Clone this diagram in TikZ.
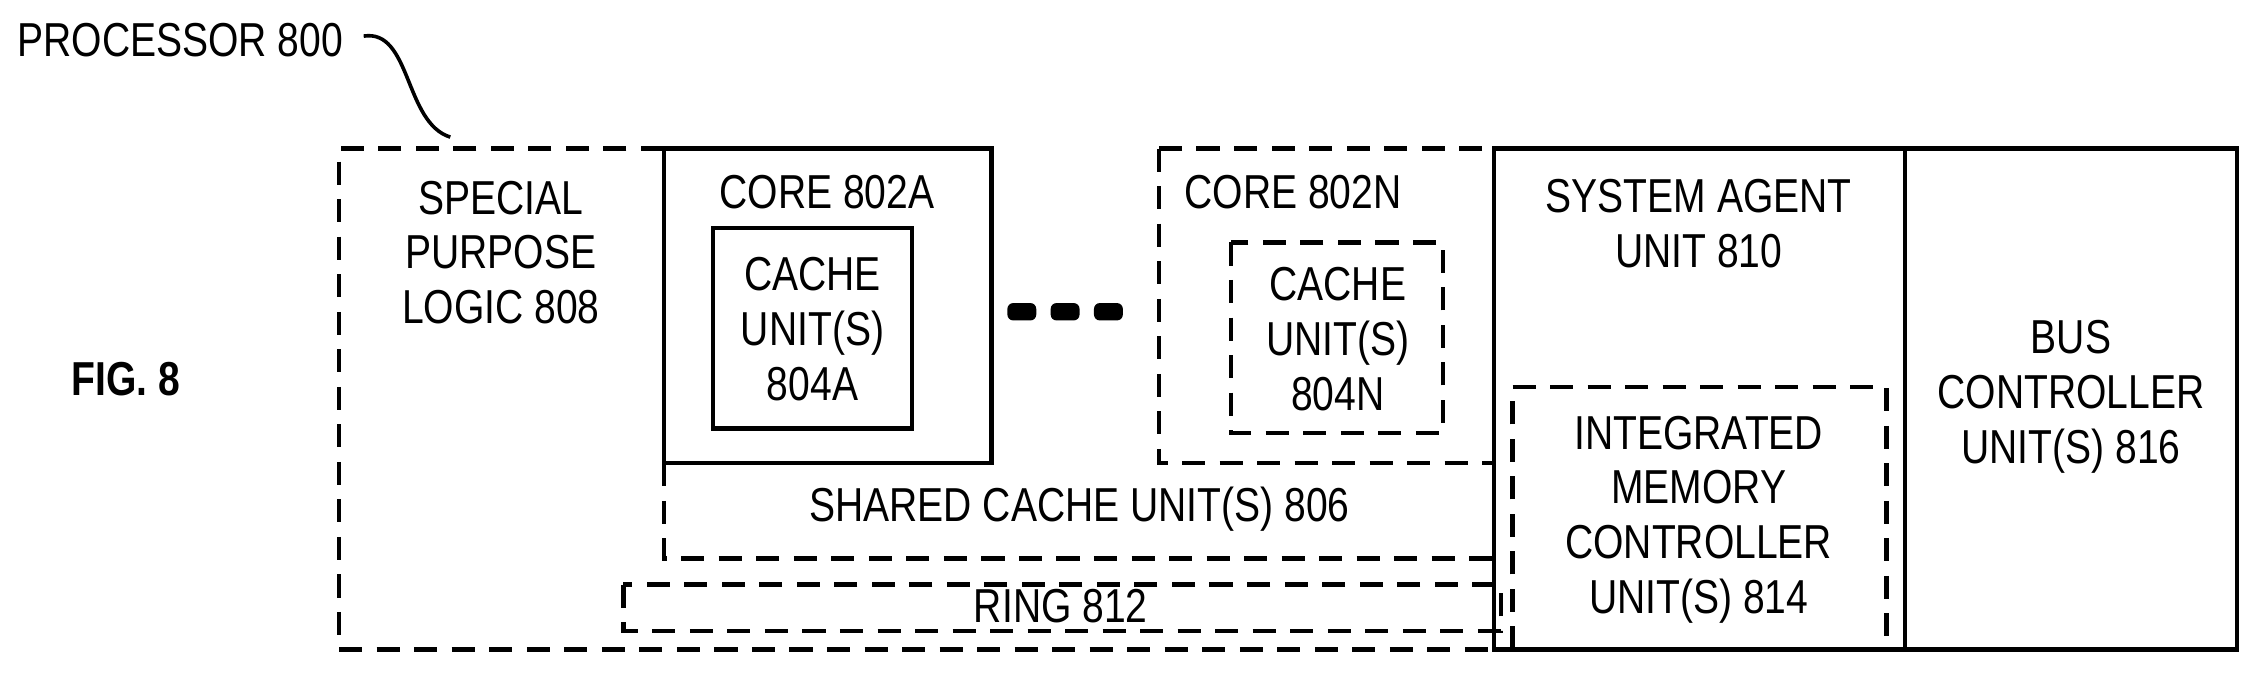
\documentclass[tikz,border=0pt]{standalone}
\usepackage{fontspec}
\setmainfont[FakeStretch=0.82]{Liberation Sans}
\begin{document}
\begin{tikzpicture}[x=1pt,y=-1pt,
  solid box/.style={draw,line width=3pt},
  dash box/.style={draw,line width=3pt,dash pattern=on 16pt off 10pt},
  lbl/.style={font=\fontsize{33}{38}\selectfont,align=center,inner sep=0pt},
  every node/.style={inner sep=0pt}]
\useasboundingbox (0,0) rectangle (1568,467);
% processor outer dashed
\draw[dash box] (460,103) -- (235,103) -- (235,450) -- (1035,450);
\draw[dash box] (803,103) rectangle (1035,321);
\node[lbl] (spl) at (347,175) {SPECIAL\\PURPOSE\\LOGIC 808};
% core A
\draw[solid box] (460,103) rectangle (687,321);
\node[lbl] (ca) at (573,133) {CORE 802A};
\draw[solid box] (494,158) rectangle (632,297);
\node[lbl] (cua) at (563,228) {CACHE\\UNIT(S)\\804A};
% dots
\foreach \x in {708,738,768} \fill[rounded corners=4pt] (\x-10,210) rectangle (\x+10,222);
% core N
\node[lbl] (cn) at (896,133) {CORE 802N};
\draw[dash box] (853,168) rectangle (1000,300);
\node[lbl] (cun) at (927,235) {CACHE\\UNIT(S)\\804N};
% shared cache
\draw[dash box] (460,321) -- (460,387) -- (1035,387) -- (1035,321);
\node[lbl] (sc) at (748,353) {SHARED CACHE UNIT(S) 806};
% ring
\draw[dash box] (432,405) rectangle (1040,437);
\node[lbl] (ring) at (735,420) {RING 812};
% system agent
\draw[solid box] (1035,103) rectangle (1320,450);
\node[lbl] (sa) at (1177,155) {SYSTEM AGENT\\UNIT 810};
\draw[dash box] (1048,450) -- (1048,268) -- (1307,268) -- (1307,450);
\node[lbl] (imc) at (1177,360) {INTEGRATED\\MEMORY\\CONTROLLER\\UNIT(S) 814};
% bus
\draw[solid box] (1320,103) rectangle (1550,450);
\node[lbl] (bus) at (1435,275) {BUS\\CONTROLLER\\UNIT(S) 816};
% labels
\node[lbl,font=\bfseries\fontsize{33}{38}\selectfont] (fig) at (87,263) {FIG. 8};
\node[lbl,anchor=west] (proc) at (12,28) {PROCESSOR 800};
\coordinate (pt) at (312,95);
\draw[line width=2.5pt] (proc.east) ++(14,-3) .. controls (285,20) and (280,85) .. (pt);
\end{tikzpicture}
\end{document}
